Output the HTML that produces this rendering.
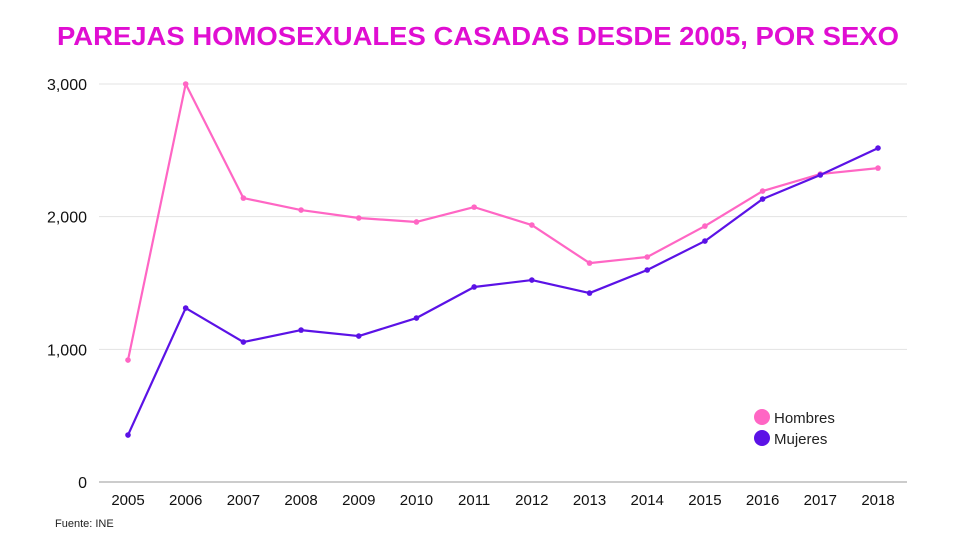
<!DOCTYPE html>
<html><head><meta charset="utf-8"><style>
html,body{margin:0;padding:0;background:#fff;width:970px;height:546px;overflow:hidden}
svg{display:block;font-family:"Liberation Sans",sans-serif}
</style></head><body>
<svg id="chart" width="970" height="546">
<text x="478" y="45" text-anchor="middle" font-size="26" font-weight="bold" fill="#e00ed2" textLength="842" lengthAdjust="spacingAndGlyphs">PAREJAS HOMOSEXUALES CASADAS DESDE 2005, POR SEXO</text>
<g id="grid"></g><g id="xaxis"></g><g id="series"></g>
<g>
<g><circle cx="762" cy="417" r="8" fill="#ff66c4"/><text x="774" y="423" font-size="15" fill="#222">Hombres</text></g>
<g><circle cx="762" cy="438" r="8" fill="#5b12e6"/><text x="774" y="444" font-size="15" fill="#222">Mujeres</text></g>
</g>
<text x="55" y="527" font-size="11" fill="#222">Fuente: INE</text>
</svg>
<script>
const years=[2005,2006,2007,2008,2009,2010,2011,2012,2013,2014,2015,2016,2017,2018];
const hombres=[919,3000,2140,2050,1990,1960,2072,1937,1650,1696,1929,2193,2321,2366];
const mujeres=[354,1311,1055,1145,1100,1236,1470,1522,1424,1598,1816,2133,2314,2517];
const yTicks=[0,1000,2000,3000];
const yTickLabels=["0","1,000","2,000","3,000"];
const NS="http://www.w3.org/2000/svg";
const x=i=>128+i*(878-128)/(years.length-1);
const y=v=>482-v*(482-84)/3000;
function mk(t,a,p){const e=document.createElementNS(NS,t);for(const k in a)e.setAttribute(k,a[k]);p.appendChild(e);return e;}
const grid=document.getElementById('grid');
yTicks.forEach((t,i)=>{
  const l=mk('line',{x1:99,x2:907,y1:y(t),y2:y(t),stroke:i==0?'#999':'#e3e3e3','stroke-width':1},grid);
  
  
  const tx=mk('text',{x:87,y:y(t)+6,'text-anchor':'end','font-size':16,fill:'#111'},grid);
  tx.textContent=yTickLabels[i];
  
  
});
const xa=document.getElementById('xaxis');
years.forEach((yr,i)=>{
  const tx=mk('text',{x:x(i),y:505,'text-anchor':'middle','font-size':15,fill:'#111'},xa);
  tx.textContent=yr;
  
  
});
const ser=document.getElementById('series');
[[hombres,'#ff66c4','hombres'],[mujeres,'#5b12e6','mujeres']].forEach(([d,c,n])=>{
  const p=mk('polyline',{points:d.map((v,i)=>x(i)+','+y(v)).join(' '),fill:'none',stroke:c,'stroke-width':2.2,'stroke-linejoin':'round'},ser);
  
  
  d.forEach((v,i)=>{
    const ci=mk('circle',{cx:x(i),cy:y(v),r:2.8,fill:c},ser);
    
    
  });
});
</script>
</body></html>
